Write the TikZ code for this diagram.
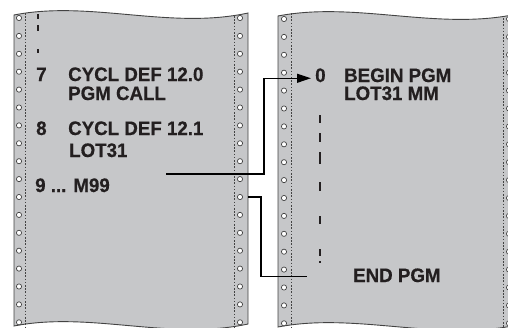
\documentclass[tikz,border=0pt]{standalone}
\usepackage{fontspec}
\setmainfont{Liberation Sans}
\newfontfamily\heavyfont{Liberation Sans}[BoldFeatures={FakeBold=0.5, FakeStretch=0.96}]
\usetikzlibrary{arrows.meta}
\definecolor{sheetgrey}{HTML}{C6C7C9}
\definecolor{edgegrey}{HTML}{434343}
\definecolor{inkdark}{HTML}{231F20}

\begin{document}
\begin{tikzpicture}[x=1pt, y=-1pt,
  line/.style={font=\heavyfont\fontsize{19.5}{19.5}\selectfont\bfseries, text=inkdark, anchor=base west, inner sep=0pt, text height=14pt, text depth=0.5pt},
  hole/.style={draw=edgegrey, fill=white, line width=0.7pt},
  perf/.style={edgegrey, line width=1pt, dash pattern=on 1.6pt off 1.6pt},
  skip/.style={inkdark, line width=1.8pt},
  link/.style={black, line width=1.2pt}]
  \useasboundingbox (0,0) rectangle (508,327);
  \clip (0,0) rectangle (508,327);

  \fill[sheetgrey] (14,15) .. controls (90,0) and (170,30) .. (248,13) -- (248,324) .. controls (170,341) and (90,311) .. (14,326) -- cycle;
  \draw[edgegrey, line width=0.9pt] (14,15) .. controls (90,0) and (170,30) .. (248,13) -- (248,324) .. controls (170,341) and (90,311) .. (14,326) -- cycle;

  \fill[sheetgrey] (278,16) .. controls (356,1) and (438,31) .. (517,14) -- (517,325) .. controls (438,342) and (356,312) .. (278,327) -- cycle;
  \draw[edgegrey, line width=0.9pt] (278,16) .. controls (356,1) and (438,31) .. (517,14) -- (517,325) .. controls (438,342) and (356,312) .. (278,327) -- cycle;

  \draw[perf] (25,13) -- (25,330);
  \draw[perf] (234,16) -- (234,330);
  \draw[perf] (291,13) -- (291,330);
  \draw[perf] (503,18) -- (503,330);
  \foreach \k in {0,...,17} {
    \draw[hole] (19,{18+17.9*\k}) circle (2.6pt);
    \draw[hole] (240,{18+17.9*\k}) circle (2.6pt);
    \draw[hole] (284,{19+17.9*\k}) circle (2.6pt);
    \draw[hole] (509,{19+17.9*\k}) circle (2.6pt);
  }

  \draw[skip] (38,14) -- (38,19) (38,25) -- (38,31) (38,49) -- (38,53);
  \node[line] (n7) at (36,81) {7};
  \node[line] (cycl0) at (68,81) {CYCL DEF 12.0};
  \node[line] (pgmcall) at (68,100) {PGM CALL};
  \node[line] (n8) at (36,135) {8};
  \node[line] (cycl1) at (68,135) {CYCL DEF 12.1};
  \node[line] (lot) at (69,157) {LOT31};
  \node[line] (n9) at (35,192) {9 ... M99};

  \node[line] (n0) at (315,82) {0};
  \node[line] (beginpgm) at (344,82) {BEGIN PGM};
  \node[line] (lotmm) at (344,100) {LOT31 MM};
  \draw[skip] (320,115) -- (320,123) (320,133) -- (320,142) (320,152) -- (320,164) (320,182) -- (320,191) (320,216) -- (320,224) (320,249) -- (320,256) (320,261) -- (320,262.5);
  \node[line] (endpgm) at (353,282) {END PGM};

  \coordinate (callout) at (166,174);
  \draw[link, -{Triangle[length=14pt, width=9pt]}] (callout) -- (264,174) |- ([xshift=-4pt, yshift=-3pt]n0.west);

  \coordinate (retout) at (248,197);
  \draw[link] (retout) -- (261,197) |- ([xshift=-46pt, yshift=-1pt]endpgm.west);
\end{tikzpicture}
\end{document}
